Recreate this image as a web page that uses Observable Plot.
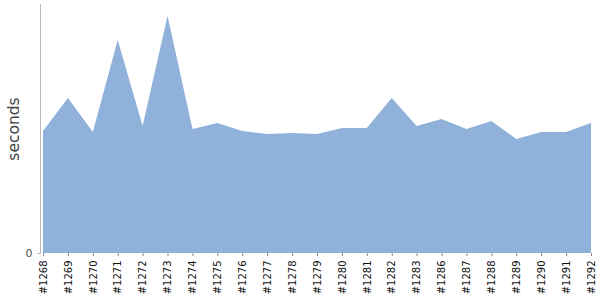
<!DOCTYPE html>
<html>
<head>
<meta charset="utf-8">
<script src="https://cdn.jsdelivr.net/npm/d3@7"></script>
<script src="https://cdn.jsdelivr.net/npm/@observablehq/plot@0.6"></script>
<style>
body { margin: 0; background: #fff; }
</style>
</head>
<body>
<div id="chart"></div>
<script>
const builds = ["#1268","#1269","#1270","#1271","#1272","#1273","#1274","#1275","#1276","#1277","#1278","#1279","#1280","#1281","#1282","#1283","#1286","#1287","#1288","#1289","#1290","#1291","#1292"];
const seconds = [1.22,1.55,1.21,2.13,1.27,2.37,1.24,1.30,1.22,1.19,1.20,1.19,1.25,1.25,1.55,1.27,1.34,1.24,1.32,1.14,1.21,1.21,1.30];
const yTicks = [0];

const data = builds.map((b, i) => ({build: b, value: seconds[i]}));

const chart = Plot.plot({
  width: 600,
  height: 300,
  marginLeft: 40,
  marginRight: 9,
  marginTop: 4,
  marginBottom: 47,
  style: {fontFamily: "DejaVu Sans, sans-serif", background: "#fff"},
  x: {type: "point", domain: builds, padding: 0, round: false, insetLeft: 3},
  y: {domain: [0, 2.49]},
  marks: [
    Plot.areaY(data, {x: "build", y: "value", fill: "#8fb1da", curve: "linear"}),
    Plot.frame({anchor: "left", stroke: "#bbb", strokeWidth: 1}),
    Plot.axisY({ticks: yTicks, tickSize: 3, stroke: "#bbb", fill: "#555", fontSize: 11, tickPadding: 5, label: null, tickFormat: d => String(d)}),
    Plot.axisX({tickSize: 3, stroke: "#888", tickRotate: -90, fontSize: 10, fill: "#111", tickPadding: 4, label: null}),
    Plot.text(["seconds"], {frameAnchor: "left", dx: -26, rotate: -90, fontSize: 15.5, fill: "#444", textAnchor: "middle"})
  ]
});
document.getElementById("chart").appendChild(chart);
</script>
</body>
</html>
